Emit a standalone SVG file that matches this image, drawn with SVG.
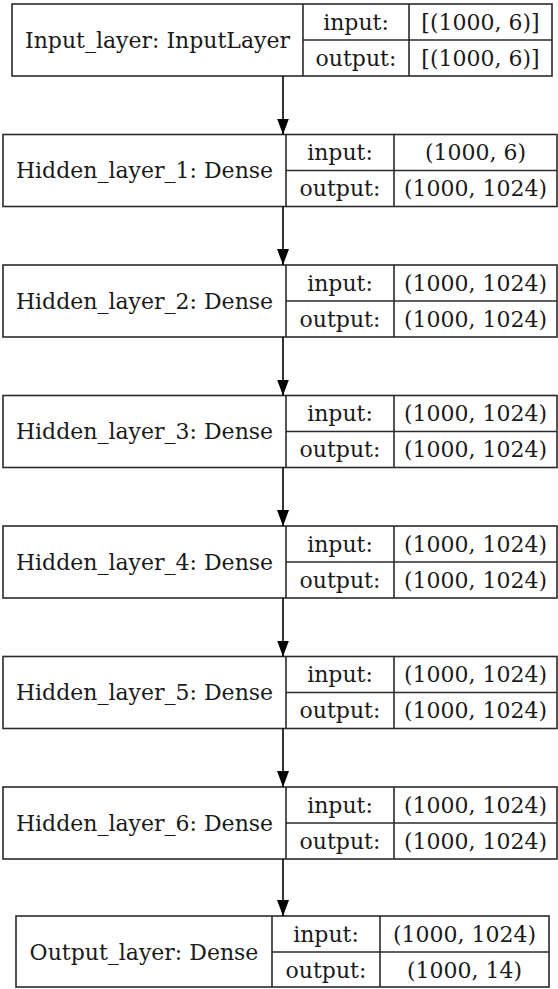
<svg xmlns="http://www.w3.org/2000/svg" width="558" height="989" viewBox="0 0 558 989">
<style>
rect,line.d{fill:#fff;stroke:#2a2a2a;stroke-width:1.6}
line.d{fill:none}
text{font-family:"DejaVu Serif",serif;font-size:22px;fill:#1a1a1a;text-anchor:middle;dominant-baseline:central}
.c{stroke:#000;stroke-width:1.6;fill:none}
</style>
<defs>
<marker id="ah" markerWidth="16" markerHeight="12" refX="16" refY="6" orient="auto" markerUnits="userSpaceOnUse" viewBox="0 0 16 12">
<path d="M0,0 L16,6 L0,12 Z" fill="#000"/>
</marker>
</defs>
<rect x="0" y="0" width="558" height="989" style="stroke:none"/>
<g id="input_layer">
<rect x="12" y="4" width="540" height="72"/>
<line class="d" x1="303" y1="4" x2="303" y2="76"/>
<line class="d" x1="409" y1="4" x2="409" y2="76"/>
<line class="d" x1="303" y1="40" x2="552" y2="40"/>
<text x="157.5" y="40">Input_layer: InputLayer</text>
<text x="356" y="22">input:</text>
<text x="356" y="58">output:</text>
<text x="480.5" y="22">[(1000, 6)]</text>
<text x="480.5" y="58">[(1000, 6)]</text>
</g>
<g id="hidden_layer_1" transform="translate(0,130.5)">
<rect x="3" y="4" width="554" height="72"/>
<line class="d" x1="286" y1="4" x2="286" y2="76"/>
<line class="d" x1="394" y1="4" x2="394" y2="76"/>
<line class="d" x1="286" y1="40" x2="557" y2="40"/>
<text x="144.5" y="40">Hidden_layer_1: Dense</text>
<text x="340" y="22">input:</text>
<text x="340" y="58">output:</text>
<text x="475.5" y="22">(1000, 6)</text>
<text x="475.5" y="58">(1000, 1024)</text>
</g>
<g id="hidden_layer_2" transform="translate(0,261)">
<rect x="3" y="4" width="554" height="72"/>
<line class="d" x1="286" y1="4" x2="286" y2="76"/>
<line class="d" x1="394" y1="4" x2="394" y2="76"/>
<line class="d" x1="286" y1="40" x2="557" y2="40"/>
<text x="144.5" y="40">Hidden_layer_2: Dense</text>
<text x="340" y="22">input:</text>
<text x="340" y="58">output:</text>
<text x="475.5" y="22">(1000, 1024)</text>
<text x="475.5" y="58">(1000, 1024)</text>
</g>
<g id="hidden_layer_3" transform="translate(0,391.5)">
<rect x="3" y="4" width="554" height="72"/>
<line class="d" x1="286" y1="4" x2="286" y2="76"/>
<line class="d" x1="394" y1="4" x2="394" y2="76"/>
<line class="d" x1="286" y1="40" x2="557" y2="40"/>
<text x="144.5" y="40">Hidden_layer_3: Dense</text>
<text x="340" y="22">input:</text>
<text x="340" y="58">output:</text>
<text x="475.5" y="22">(1000, 1024)</text>
<text x="475.5" y="58">(1000, 1024)</text>
</g>
<g id="hidden_layer_4" transform="translate(0,522)">
<rect x="3" y="4" width="554" height="72"/>
<line class="d" x1="286" y1="4" x2="286" y2="76"/>
<line class="d" x1="394" y1="4" x2="394" y2="76"/>
<line class="d" x1="286" y1="40" x2="557" y2="40"/>
<text x="144.5" y="40">Hidden_layer_4: Dense</text>
<text x="340" y="22">input:</text>
<text x="340" y="58">output:</text>
<text x="475.5" y="22">(1000, 1024)</text>
<text x="475.5" y="58">(1000, 1024)</text>
</g>
<g id="hidden_layer_5" transform="translate(0,652.5)">
<rect x="3" y="4" width="554" height="72"/>
<line class="d" x1="286" y1="4" x2="286" y2="76"/>
<line class="d" x1="394" y1="4" x2="394" y2="76"/>
<line class="d" x1="286" y1="40" x2="557" y2="40"/>
<text x="144.5" y="40">Hidden_layer_5: Dense</text>
<text x="340" y="22">input:</text>
<text x="340" y="58">output:</text>
<text x="475.5" y="22">(1000, 1024)</text>
<text x="475.5" y="58">(1000, 1024)</text>
</g>
<g id="hidden_layer_6" transform="translate(0,783)">
<rect x="3" y="4" width="554" height="72"/>
<line class="d" x1="286" y1="4" x2="286" y2="76"/>
<line class="d" x1="394" y1="4" x2="394" y2="76"/>
<line class="d" x1="286" y1="40" x2="557" y2="40"/>
<text x="144.5" y="40">Hidden_layer_6: Dense</text>
<text x="340" y="22">input:</text>
<text x="340" y="58">output:</text>
<text x="475.5" y="22">(1000, 1024)</text>
<text x="475.5" y="58">(1000, 1024)</text>
</g>
<g id="output_layer" transform="translate(0,912)">
<rect x="16" y="4" width="533" height="71"/>
<line class="d" x1="272" y1="4" x2="272" y2="75"/>
<line class="d" x1="380" y1="4" x2="380" y2="75"/>
<line class="d" x1="272" y1="40" x2="549" y2="40"/>
<text x="144" y="40">Output_layer: Dense</text>
<text x="326" y="22">input:</text>
<text x="326" y="58">output:</text>
<text x="464.5" y="22">(1000, 1024)</text>
<text x="464.5" y="58">(1000, 14)</text>
</g>
<g id="connectors">
<line class="c" x1="283" y1="76" x2="283" y2="134.5" marker-end="url(#ah)"/>
<line class="c" x1="283" y1="206.5" x2="283" y2="265" marker-end="url(#ah)"/>
<line class="c" x1="283" y1="337" x2="283" y2="395.5" marker-end="url(#ah)"/>
<line class="c" x1="283" y1="467.5" x2="283" y2="526" marker-end="url(#ah)"/>
<line class="c" x1="283" y1="598" x2="283" y2="656.5" marker-end="url(#ah)"/>
<line class="c" x1="283" y1="728.5" x2="283" y2="787" marker-end="url(#ah)"/>
<line class="c" x1="283" y1="859" x2="283" y2="916" marker-end="url(#ah)"/>
</g>
</svg>
